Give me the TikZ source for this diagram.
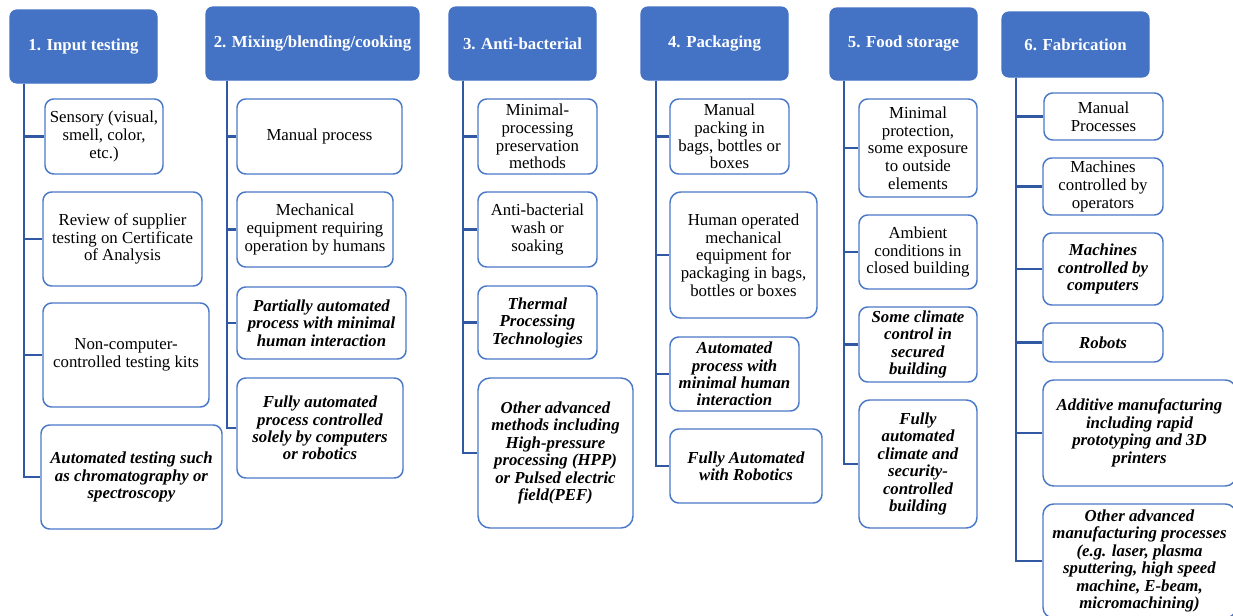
\documentclass[tikz,border=0pt]{standalone}
\usepackage{fontspec}
\setmainfont{Liberation Serif}
\usetikzlibrary{fit}
\definecolor{hdblue}{HTML}{4472C4}
\definecolor{edgeblue}{HTML}{4A78C8}
\definecolor{trunkblue}{HTML}{3158A3}
\begin{document}
\begin{tikzpicture}[x=0.75pt,y=-0.75pt,
  head/.style={draw=hdblue, line width=0.8pt, fill=hdblue, rounded corners=5pt,
    inner sep=0pt},
  headtext/.style={text=white, font=\fontsize{12.6}{13.3}\selectfont\bfseries},
  item/.style={draw=edgeblue, line width=1.1pt, fill=white, rounded corners=6.5pt,
    inner sep=0pt},
  plain/.style={align=center, font=\fontsize{12.6}{13.3}\selectfont},
  strong/.style={align=center, font=\fontsize{12.6}{13.1}\selectfont\bfseries\itshape},
  link/.style={draw=trunkblue, line width=1.6pt}
]
\useasboundingbox (0,0) rectangle (1233,615);
\clip (0,0) rectangle (1233,615);

% trunk positions
\coordinate (t1) at (24,0);
\coordinate (t2) at (227,0);
\coordinate (t3) at (463,0);
\coordinate (t4) at (656,0);
\coordinate (t5) at (844,0);
\coordinate (t6) at (1016,0);

% column headers
\node[head, fit={(10,10)(157,83)}] (h1) {};
\node[headtext] at (h1.center) {1. Input testing};
\node[head, fit={(206,7)(419,80)}] (h2) {};
\node[headtext] at (h2.center) {2. Mixing/blending/cooking};
\node[head, fit={(449,7)(596,80)}] (h3) {};
\node[headtext] at (h3.center) {3. Anti-bacterial};
\node[head, fit={(641,7)(788,80)}] (h4) {};
\node[headtext] at (h4.center) {4. Packaging};
\node[head, fit={(830,8)(977,80)}] (h5) {};
\node[headtext] at (h5.center) {5. Food storage};
\node[head, fit={(1002,12)(1149,77)}] (h6) {};
\node[headtext] at (h6.center) {6. Fabrication};

% column 1
\node[item, fit={(45,99)(163,174)}] (a1) {};
\node[plain] at (a1.center) {Sensory (visual,\\smell, color,\\etc.)};
\node[item, fit={(43,192)(202,286)}] (a2) {};
\node[plain] at (a2.center) {Review of supplier\\testing on Certificate\\of Analysis};
\node[item, fit={(43,303)(209,407)}] (a3) {};
\node[plain] at (a3.center) {Non-computer-\\controlled testing kits};
\node[item, fit={(41,425)(222,529)}] (a4) {};
\node[strong] at (a4.center) {Automated testing such\\as chromatography or\\spectroscopy};

% column 2
\node[item, fit={(237,99)(402,174)}] (b1) {};
\node[plain] at (b1.center) {Manual process};
\node[item, fit={(237,192)(393,267)}] (b2) {};
\node[plain] at (b2.center) {Mechanical\\equipment requiring\\operation by humans};
\node[item, fit={(237,287)(406,359)}] (b3) {};
\node[strong] at (b3.center) {Partially automated\\process with minimal\\human interaction};
\node[item, fit={(237,378)(403,478)}] (b4) {};
\node[strong] at (b4.center) {Fully automated\\process controlled\\solely by computers\\or robotics};

% column 3
\node[item, fit={(478,99)(597,174)}] (c1) {};
\node[plain] at (c1.center) {Minimal-\\processing\\preservation\\methods};
\node[item, fit={(478,192)(597,267)}] (c2) {};
\node[plain] at (c2.center) {Anti-bacterial\\wash or\\soaking};
\node[item, fit={(478,286)(597,359)}] (c3) {};
\node[strong] at (c3.center) {Thermal\\Processing\\Technologies};
\node[item, rounded corners=9pt, fit={(478,378)(633,528)}] (c4) {};
\node[strong] at (c4.center) {Other advanced\\methods including\\High-pressure\\processing (HPP)\\or Pulsed electric\\field(PEF)};

% column 4
\node[item, fit={(670,99)(789,174)}] (d1) {};
\node[plain] at (d1.center) {Manual\\packing in\\bags, bottles or\\boxes};
\node[item, rounded corners=8pt, fit={(670,192)(817,318)}] (d2) {};
\node[plain] at (d2.center) {Human operated\\mechanical\\equipment for\\packaging in bags,\\bottles or boxes};
\node[item, fit={(670,337)(799,411)}] (d3) {};
\node[strong] at (d3.center) {Automated\\process with\\minimal human\\interaction};
\node[item, fit={(670,429)(822,503)}] (d4) {};
\node[strong] at (d4.center) {Fully Automated\\with Robotics};

% column 5
\node[item, fit={(859,99)(977,197)}] (e1) {};
\node[plain] at (e1.center) {Minimal\\protection,\\some exposure\\to outside\\elements};
\node[item, fit={(859,215)(977,289)}] (e2) {};
\node[plain] at (e2.center) {Ambient\\conditions in\\closed building};
\node[item, fit={(859,307)(977,382)}] (e3) {};
\node[strong] at (e3.center) {Some climate\\control in\\secured\\building};
\node[item, rounded corners=8pt, fit={(859,400)(977,528)}] (e4) {};
\node[strong] at (e4.center) {Fully\\automated\\climate and\\security-\\controlled\\building};

% column 6
\node[item, fit={(1044,93)(1163,140)}] (f1) {};
\node[plain] at (f1.center) {Manual\\Processes};
\node[item, fit={(1043,158)(1163,215)}] (f2) {};
\node[plain] at (f2.center) {Machines\\controlled by\\operators};
\node[item, fit={(1043,233)(1163,305)}] (f3) {};
\node[strong] at (f3.center) {Machines\\controlled by\\computers};
\node[item, fit={(1043,323)(1163,362)}] (f4) {};
\node[strong] at (f4.center) {Robots};
\node[item, rounded corners=8pt, fit={(1043,380)(1236,486)}] (f5) {};
\node[strong] at (f5.center) {Additive manufacturing\\including rapid\\prototyping and 3D\\printers};
\node[item, rounded corners=8pt, fit={(1043,504)(1236,618)}] (f6) {};
\node[strong] at (f6.center) {Other advanced\\manufacturing processes\\(e.g. laser, plasma\\sputtering, high speed\\machine, E-beam,\\micromachining)};

% trunks and branches
\foreach \n in {a1,a2,a3,a4} \draw[link] (h1.south -| t1) |- (\n.west);
\foreach \n in {b1,b2,b3,b4} \draw[link] (h2.south -| t2) |- (\n.west);
\foreach \n in {c1,c2,c3,c4} \draw[link] (h3.south -| t3) |- (\n.west);
\foreach \n in {d1,d2,d3,d4} \draw[link] (h4.south -| t4) |- (\n.west);
\foreach \n in {e1,e2,e3,e4} \draw[link] (h5.south -| t5) |- (\n.west);
\foreach \n in {f1,f2,f3,f4,f5,f6} \draw[link] (h6.south -| t6) |- (\n.west);
\end{tikzpicture}
\end{document}
